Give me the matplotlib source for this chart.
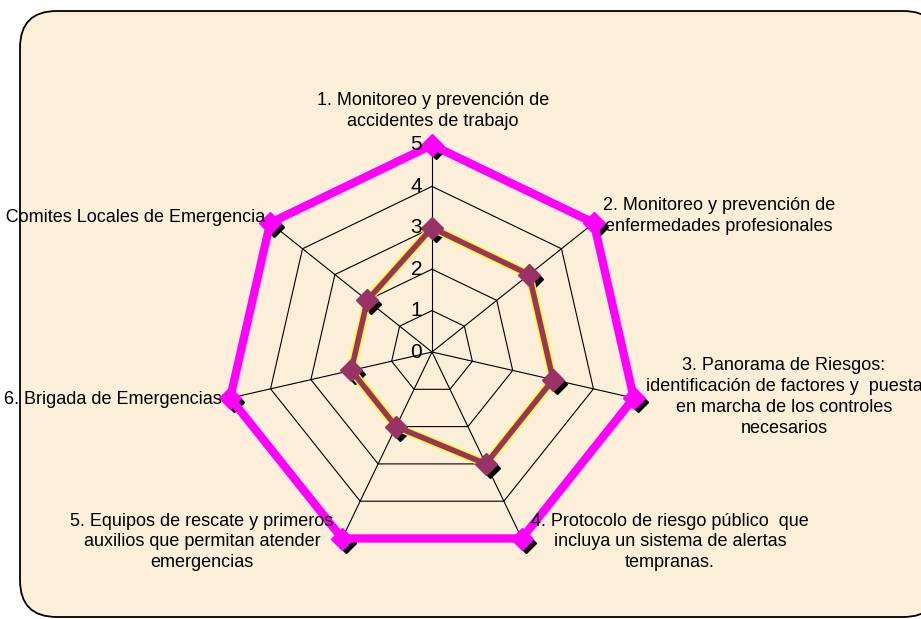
import numpy as np
import matplotlib
matplotlib.use("Agg")
import matplotlib.pyplot as plt
import matplotlib.patheffects as pe
from matplotlib.patches import FancyBboxPatch
from matplotlib.transforms import offset_copy

categories = [
    "1. Monitoreo y prevención de\naccidentes de trabajo",
    "2. Monitoreo y prevención de\nenfermedades profesionales",
    "3. Panorama de Riesgos:\nidentificación de factores y  puesta\nen marcha de los controles\nnecesarios",
    "4. Protocolo de riesgo público  que\nincluya un sistema de alertas\ntempranas.",
    "5. Equipos de rescate y primeros\nauxilios que permitan atender\nemergencias",
    "6. Brigada de Emergencias",
    "7. Comites Locales de Emergencia",
]
target_values = [5, 5, 5, 5, 5, 5, 5]
actual_values = [3, 3, 3, 3, 2, 2, 2]
ring_ticks = [0, 1, 2, 3, 4, 5]

plt.rcParams['font.family'] = ['Liberation Sans', 'DejaVu Sans']

W, H = 921, 619
fig = plt.figure(figsize=(W / 100, H / 100), dpi=100)
fig.patch.set_facecolor('white')

# rounded background panel
bg = FancyBboxPatch((20 / W, 2 / H), (940 - 20) / W, (608 - 2) / H,
                    boxstyle="round,pad=0,rounding_size=0.04",
                    transform=fig.transFigure, facecolor='#FBEFD9',
                    edgecolor='black', linewidth=1.3, zorder=-5,
                    mutation_aspect=W / H)
fig.patches.append(bg)

cx, cy, R = 432, 352, 207
ax = fig.add_axes([(cx - R) / W, (H - cy - R) / H, 2 * R / W, 2 * R / H],
                  projection='polar')
ax.set_zorder(2)
ax.set_facecolor('none')
ax.patch.set_alpha(0)
ax.set_theta_zero_location('N')
ax.set_theta_direction(-1)
ax.set_ylim(0, 5)
ax.grid(False)
ax.spines['polar'].set_visible(False)
ax.set_xticks([])
ax.set_yticks([])

n = len(categories)
angles = np.arange(n) * 2 * np.pi / n
closed = np.append(angles, angles[0])

# polygon grid
for r in ring_ticks[1:]:
    ax.plot(closed, [r] * (n + 1), color='black', lw=0.8, zorder=1, clip_on=False)
for a in angles:
    ax.plot([a, a], [0, 5], color='black', lw=0.8, zorder=1, clip_on=False)

shadow = offset_copy(ax.transData, fig=fig, x=4, y=-4, units='dots')

# target series (magenta)
tv = np.append(target_values, target_values[0])
ax.plot(angles, target_values, linestyle='none', marker='D', markersize=10,
        color='black', transform=shadow, zorder=3, clip_on=False)
ax.plot(closed, tv, color='#FF00FF', lw=6, zorder=4, clip_on=False,
        solid_joinstyle='miter')
ax.plot(angles, target_values, linestyle='none', marker='D', markersize=11,
        color='#FF00FF', zorder=5, clip_on=False)

# actual series (purple with yellow edge)
av = np.append(actual_values, actual_values[0])
ax.plot(angles, actual_values, linestyle='none', marker='D', markersize=10,
        color='black', transform=shadow, zorder=6, clip_on=False)
ax.plot(closed, av, color='#993366', lw=4, zorder=7, clip_on=False,
        path_effects=[pe.Stroke(linewidth=6, foreground='#FFFF00'), pe.Normal()])
ax.plot(angles, actual_values, linestyle='none', marker='D', markersize=11,
        color='#993366', zorder=8, clip_on=False)

# radial tick labels
for r in ring_ticks:
    y = cy - r * R / 5
    fig.text(422 / W, 1 - y / H, str(r), ha='right', va='center',
             fontsize=15, color='black', zorder=10)

# category labels (pixel positions)
label_pos = [
    (433, 111, 'center'),
    (719, 216, 'center'),
    (784, 397, 'center'),
    (670, 542, 'center'),
    (202, 542, 'center'),
    (222, 399, 'right'),
    (265, 217, 'right'),
]
for text, (x, y, ha) in zip(categories, label_pos):
    fig.text(x / W, 1 - y / H, text, ha=ha, va='center', multialignment='center',
             fontsize=13, linespacing=1.3, color='black', zorder=10)

fig.savefig('out.png', dpi=100, facecolor=fig.get_facecolor())
